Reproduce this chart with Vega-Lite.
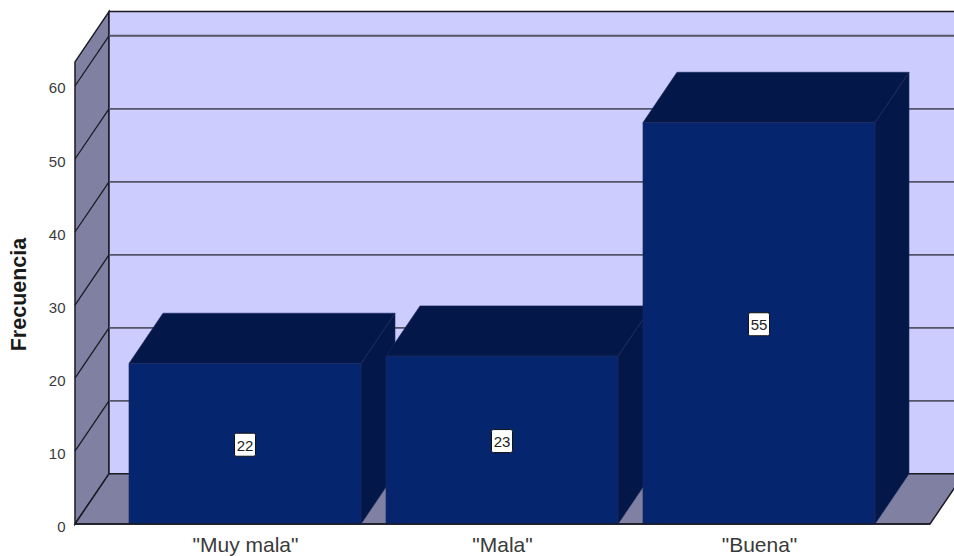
{
  "$schema": "https://vega.github.io/schema/vega-lite/v6.json",
  "width": 954,
  "height": 556,
  "autosize": "none",
  "padding": 0,
  "background": "white",
  "config": {"view": {"stroke": null}, "font": "Liberation Sans"},
  "datasets": {
    "barras": [
      {"categoria": "\"Muy mala\"", "posicion": 1, "frecuencia": 22},
      {"categoria": "\"Mala\"", "posicion": 2, "frecuencia": 23},
      {"categoria": "\"Buena\"", "posicion": 3, "frecuencia": 55}
    ],
    "marcas": [{"t": 10}, {"t": 20}, {"t": 30}, {"t": 40}, {"t": 50}, {"t": 60}],
    "profundidad": [{"d": 0}, {"d": 1}]
  },
  "layer": [
    {
      "description": "Left wall",
      "data": {"name": "profundidad"},
      "transform": [
        {"calculate": "0.3385 + datum.d * 0.1323", "as": "xa"},
        {"calculate": "datum.d * 6.88", "as": "y0"},
        {"calculate": "63.3 + datum.d * 6.88", "as": "y1"}
      ],
      "mark": {"type": "area", "orient": "vertical", "fill": "#8080A3", "stroke": "#1a1a24", "strokeWidth": 1.5, "clip": true},
      "encoding": {
        "x": {"field": "xa", "type": "quantitative", "scale": {"domain": [0.0467, 3.7588], "nice": false, "zero": false},
          "axis": {"values": [1, 2, 3], "orient": "bottom", "offset": -32, "title": null, "domain": false, "ticks": false, "grid": false, "labelExpr": "datum.value == 1 ? '\"Muy mala\"' : datum.value == 2 ? '\"Mala\"' : '\"Buena\"'", "labelFontSize": 21, "labelColor": "#3a3a3a", "labelPadding": 10, "labelFlush": false, "labelOverlap": false}},
        "y": {"field": "y0", "type": "quantitative", "scale": {"domain": [-4.38, 71.78], "nice": false, "zero": false},
          "axis": {"values": [0, 10, 20, 30, 40, 50, 60], "orient": "left", "offset": -75, "domain": false, "ticks": false, "grid": false, "labelFontSize": 15, "labelColor": "#3a3a3a", "labelPadding": 10, "labelOffset": 2, "title": "Frecuencia", "titleFontSize": 21.5, "titleFontWeight": "bold", "titleColor": "#1a1a1a", "titleX": -56, "titleY": 294, "titleAngle": -90, "titleAlign": "center", "titleBaseline": "middle"}},
        "y2": {"field": "y1"}
      }
    },
    {
      "description": "Back wall",
      "data": {"values": [{"xa": 0.4708, "xb": 3.8, "y0": 6.88, "y1": 70.2}]},
      "mark": {"type": "rect", "fill": "#CCCCFF", "stroke": "#1a1a24", "strokeWidth": 1.5, "clip": true},
      "encoding": {
        "x": {"field": "xa", "type": "quantitative"},
        "x2": {"field": "xb"},
        "y": {"field": "y0", "type": "quantitative"},
        "y2": {"field": "y1"}
      }
    },
    {
      "description": "Floor",
      "data": {"name": "profundidad"},
      "transform": [
        {"calculate": "0.3385 + datum.d * 0.1323", "as": "xa"},
        {"calculate": "3.6654 + datum.d * 0.1323", "as": "xb"},
        {"calculate": "datum.d * 6.88", "as": "y0"}
      ],
      "mark": {"type": "area", "orient": "horizontal", "fill": "#8080A3", "stroke": "#1a1a24", "strokeWidth": 1.5, "clip": true},
      "encoding": {
        "y": {"field": "y0", "type": "quantitative"},
        "x": {"field": "xa", "type": "quantitative"},
        "x2": {"field": "xb"}
      }
    },
    {
      "description": "Gridlines on the back wall",
      "data": {"name": "marcas"},
      "transform": [{"calculate": "datum.t + 6.88", "as": "yb"}],
      "mark": {"type": "rule", "stroke": "#55556a", "strokeWidth": 1.8},
      "encoding": {
        "y": {"field": "yb", "type": "quantitative"},
        "x": {"datum": 0.4708, "type": "quantitative"},
        "x2": {"datum": 3.7588}
      }
    },
    {
      "description": "Gridlines on the left wall",
      "data": {"name": "marcas"},
      "transform": [
        {"calculate": "[0, 1]", "as": "d"},
        {"flatten": ["d"]},
        {"calculate": "0.3385 + datum.d * 0.1323", "as": "xa"},
        {"calculate": "datum.t + datum.d * 6.88", "as": "yb"}
      ],
      "mark": {"type": "line", "stroke": "#1a1a24", "strokeWidth": 1.3},
      "encoding": {
        "x": {"field": "xa", "type": "quantitative"},
        "y": {"field": "yb", "type": "quantitative"},
        "detail": {"field": "t"}
      }
    },
    {
      "description": "Bar right-hand faces",
      "data": {"name": "barras"},
      "transform": [
        {"calculate": "[0, 1]", "as": "d"},
        {"flatten": ["d"]},
        {"calculate": "datum.posicion + 0.4514 + datum.d * 0.1323", "as": "xa"},
        {"calculate": "datum.d * 6.88", "as": "y0"},
        {"calculate": "datum.frecuencia + datum.d * 6.88", "as": "y1"}
      ],
      "mark": {"type": "area", "orient": "vertical", "fill": "#031748", "stroke": "#1c2a5c", "strokeWidth": 0.6},
      "encoding": {
        "x": {"field": "xa", "type": "quantitative"},
        "y": {"field": "y0", "type": "quantitative"},
        "y2": {"field": "y1"},
        "detail": {"field": "categoria"}
      }
    },
    {
      "description": "Bar top faces",
      "data": {"name": "barras"},
      "transform": [
        {"calculate": "[0, 1]", "as": "d"},
        {"flatten": ["d"]},
        {"calculate": "datum.posicion - 0.4514 + datum.d * 0.1323", "as": "xa"},
        {"calculate": "datum.posicion + 0.4514 + datum.d * 0.1323", "as": "xb"},
        {"calculate": "datum.frecuencia + datum.d * 6.88", "as": "y0"}
      ],
      "mark": {"type": "area", "orient": "horizontal", "fill": "#031748", "stroke": "#1c2a5c", "strokeWidth": 0.6},
      "encoding": {
        "y": {"field": "y0", "type": "quantitative"},
        "x": {"field": "xa", "type": "quantitative"},
        "x2": {"field": "xb"},
        "detail": {"field": "categoria"}
      }
    },
    {
      "description": "Bar front faces",
      "data": {"name": "barras"},
      "transform": [
        {"calculate": "datum.posicion - 0.4514", "as": "xa"},
        {"calculate": "datum.posicion + 0.4514", "as": "xb"}
      ],
      "mark": {"type": "rect", "fill": "#06256F", "stroke": "#1c2a5c", "strokeWidth": 0.6},
      "encoding": {
        "x": {"field": "xa", "type": "quantitative"},
        "x2": {"field": "xb"},
        "y": {"field": "frecuencia", "type": "quantitative"},
        "y2": {"datum": 0}
      }
    },
    {
      "description": "Line along the front edge of the floor",
      "data": {"values": [{"xa": 0.3385, "xb": 3.6654, "y0": 0}]},
      "mark": {"type": "rule", "stroke": "#1a1a24", "strokeWidth": 1.5},
      "encoding": {
        "x": {"field": "xa", "type": "quantitative"},
        "x2": {"field": "xb"},
        "y": {"field": "y0", "type": "quantitative"}
      }
    },
    {
      "description": "White badge behind each value label",
      "data": {"name": "barras"},
      "transform": [{"calculate": "datum.frecuencia / 2", "as": "centro"}],
      "mark": {"type": "rect", "width": 21, "height": 23, "cornerRadius": 2, "fill": "white", "stroke": "#111111", "strokeWidth": 1, "yOffset": 1},
      "encoding": {
        "x": {"field": "posicion", "type": "quantitative"},
        "y": {"field": "centro", "type": "quantitative"}
      }
    },
    {
      "description": "Value labels",
      "data": {"name": "barras"},
      "transform": [{"calculate": "datum.frecuencia / 2", "as": "centro"}],
      "mark": {"type": "text", "fontSize": 15, "color": "#222222", "align": "center", "baseline": "middle", "dy": 2},
      "encoding": {
        "x": {"field": "posicion", "type": "quantitative"},
        "y": {"field": "centro", "type": "quantitative"},
        "text": {"field": "frecuencia", "type": "quantitative"}
      }
    }
  ]
}
